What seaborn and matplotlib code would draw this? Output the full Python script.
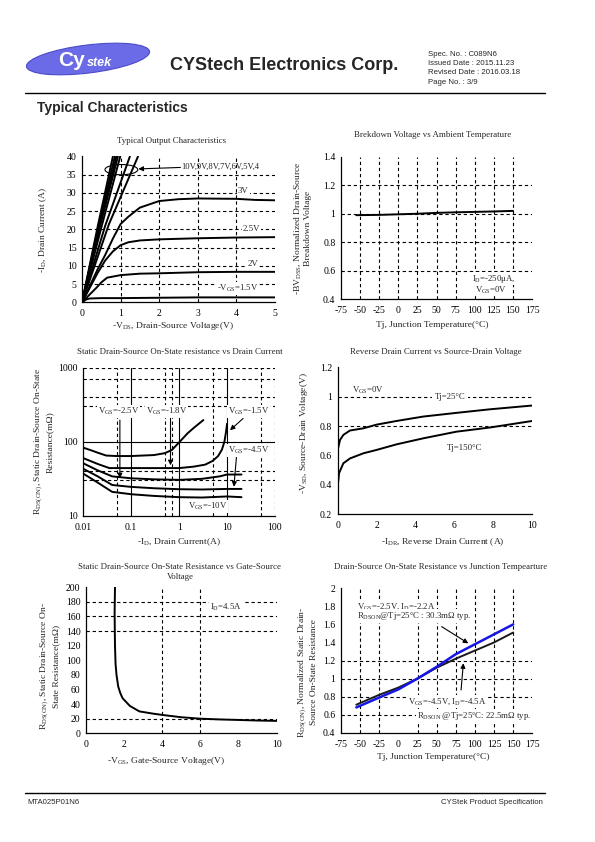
import matplotlib
matplotlib.use("Agg")
import matplotlib.pyplot as plt
from matplotlib.patches import Ellipse
from matplotlib.ticker import NullLocator
import seaborn as sns

# ---------------- data ----------------
# Typical output characteristics (-VDS in V, -ID in A)
vds_10v = [0, 0.4, 0.8]
id_10v = [0, 20.5, 40]
vds_9v = [0, 0.42, 0.85]
id_9v = [0, 20.5, 40]
vds_8v = [0, 0.44, 0.89]
id_8v = [0, 20.5, 40]
vds_7v = [0, 0.46, 0.93]
id_7v = [0, 20.5, 40]
vds_6v = [0, 0.5, 0.99]
id_6v = [0, 20.5, 40]
vds_5v = [0, 0.6, 1.24]
id_5v = [0, 21, 40]
vds_4v = [0, 0.7, 1.45]
id_4v = [0, 21.5, 40]
vds_3v = [0, 0.2, 0.4, 0.6, 0.8, 1.0, 1.2, 1.5, 2.0, 2.5, 3.0, 4.0, 4.5, 5.0]
id_3v = [0, 4.5, 9, 13, 17.5, 21.5, 23.5, 26, 27.8, 28.3, 28.5, 28.4, 28.1, 28.0]
vds_25v = [0, 0.2, 0.4, 0.6, 0.8, 1.0, 1.2, 1.5, 2.0, 3.0, 4.0, 5.0]
id_25v = [0, 4, 8, 11.5, 14, 15.7, 16.5, 17.0, 17.3, 17.6, 17.8, 17.9]
vds_2v = [0, 0.2, 0.37, 0.5, 0.65, 1.0, 1.5, 2.0, 3.0, 4.0, 5.0]
id_2v = [0, 2.2, 4.0, 5.5, 6.8, 7.5, 7.9, 8.0, 8.3, 8.4, 8.4]
vds_15v = [0, 0.1, 0.2, 0.5, 1.0, 2.0, 3.0, 4.0, 5.0]
id_15v = [0, 0.8, 1.1, 1.2, 1.2, 1.3, 1.4, 1.4, 1.4]

# Breakdown voltage vs temperature
bv_tj = [-55, -25, 0, 25, 50, 75, 100, 125, 150]
bv_norm = [0.99, 0.992, 0.996, 1.0, 1.006, 1.01, 1.013, 1.016, 1.02]

# RDS(on) vs drain current (log-log)
rid_a = [0.01, 0.015, 0.02, 0.03, 0.05, 0.1, 0.3, 0.5, 0.7, 1.0, 1.5, 2.0, 3.2]
rds_a = [83, 76, 71, 65, 64, 64, 66, 70, 77, 98, 130, 153, 196]
rid_b = [0.01, 0.02, 0.035, 0.1, 0.3, 1.0, 2.0, 3.5, 5.0, 6.5, 7.8, 8.8, 9.5, 10]
rds_b = [60, 50, 44, 44, 44, 44, 46, 49, 55, 64, 78, 100, 135, 175]
rid_c = [0.01, 0.02, 0.04, 0.1, 0.3, 1.0, 3.0, 7.0, 10, 20]
rds_c = [51, 41, 34, 32, 31, 30.5, 31.5, 34, 36, 36]
rid_d = [0.01, 0.02, 0.04, 0.1, 0.3, 1.0, 3.0, 10, 20]
rds_d = [43, 34, 26, 24.5, 23.5, 22.8, 22.6, 23, 23]
rid_e = [0.01, 0.02, 0.04, 0.1, 0.3, 1.0, 3.0, 10, 20]
rds_e = [37, 28, 21, 19.5, 18.5, 17.8, 17.6, 18.2, 17.8]

# Reverse drain current vs source-drain voltage
idr_25 = [0, 0.12, 0.29, 0.63, 1.32, 2.0, 3.03, 4.4, 6.1, 7.8, 10]
vsd_25 = [0.638, 0.706, 0.74, 0.77, 0.785, 0.81, 0.835, 0.865, 0.89, 0.914, 0.94]
idr_150 = [0, 0.07, 0.29, 0.63, 1.32, 2.0, 3.03, 4.4, 6.1, 7.8, 10]
vsd_150 = [0.39, 0.48, 0.547, 0.58, 0.615, 0.638, 0.676, 0.717, 0.762, 0.79, 0.835]

# RDS(on) vs gate-source voltage
vgs_pts = [1.52, 1.50, 1.52, 1.55, 1.6, 1.69, 1.8, 1.92, 2.3, 2.8, 3.5, 4.05, 5.0, 6.0, 7.0, 8.1, 9.0, 10.0]
rds_vgs = [200, 165, 120, 95, 80, 64, 55, 48, 37.5, 30, 27, 25, 22, 20, 19, 18.2, 17.5, 17]

# Normalized RDS(on) vs junction temperature
rt_tj = [-55, -25, 0, 25, 50, 75, 100, 125, 150]
rt_45v = [0.71, 0.82, 0.9, 1.0, 1.12, 1.22, 1.31, 1.4, 1.51]
rt_25v = [0.68, 0.79, 0.88, 1.0, 1.13, 1.27, 1.38, 1.49, 1.6]

# ---------------- style ----------------
sns.set_style("white")
plt.rcParams['font.family'] = ['Liberation Serif', 'DejaVu Sans']
plt.rcParams['mathtext.fontset'] = 'custom'
plt.rcParams['mathtext.rm'] = 'Liberation Serif'
plt.rcParams['mathtext.default'] = 'regular'
plt.rcParams['axes.unicode_minus'] = False

W, H = 595, 842
fig = plt.figure(figsize=(5.95, 8.42), dpi=100)
page = fig.add_axes([0, 0, 1, 1])
page.set_xlim(0, W)
page.set_ylim(H, 0)
page.axis('off')

SANS = ['Liberation Sans', 'DejaVu Sans']
NARROW = ['Liberation Sans Narrow', 'Liberation Sans', 'DejaVu Sans']

# header
logo = Ellipse((88, 59), 124, 28, angle=-7, facecolor='#6b6be8', edgecolor='#4b4bc8', lw=0.8)
page.add_patch(logo)
page.text(58, 61, 'Cy', color='white', fontsize=15, fontweight='bold', family=SANS, va='center')
page.text(87, 63, 'stek', color='white', fontsize=9, fontweight='bold', style='italic', family=SANS, va='center')
page.text(170, 66, 'CYStech Electronics Corp.', fontsize=13, fontweight='bold', family=SANS, va='center')
for i, s in enumerate(['Spec. No. : C089N6', 'Issued Date : 2015.11.23',
                       'Revised Date : 2016.03.18', 'Page No. : 3/9']):
    page.text(428, 54 + i * 9.4, s, fontsize=5.6, family=NARROW, va='center')
page.plot([25, 545], [93, 93], color='k', lw=1)
page.text(37, 108, 'Typical Characteristics', fontsize=10, fontweight='bold', family=SANS, va='center')

# footer
page.plot([25, 545], [793, 793], color='k', lw=1)
page.text(27, 803, 'MTA025P01N6', fontsize=5.6, family=NARROW, va='center')
page.text(543, 803, 'CYStek Product Specification', fontsize=5.6, family=NARROW, va='center', ha='right')

# chart titles
TITLE = 6.4
page.text(172, 141, 'Typical Output Characteristics', fontsize=TITLE, ha='center', va='center')
page.text(433, 135, 'Brekdown Voltage vs Ambient Temperature', fontsize=TITLE, ha='center', va='center')
page.text(180, 352, 'Static Drain-Source On-State resistance vs Drain Current', fontsize=TITLE, ha='center', va='center')
page.text(436, 352, 'Reverse Drain Current vs Source-Drain Voltage', fontsize=TITLE, ha='center', va='center')
page.text(180, 572, 'Static Drain-Source On-State Resistance vs Gate-Source\nVoltage', fontsize=TITLE,
          ha='center', va='center', linespacing=1.3)
page.text(441, 567, 'Drain-Source On-State Resistance vs Junction Tempearture', fontsize=TITLE, ha='center', va='center')


def panel(x0, y0, x1, y1):
    ax = fig.add_axes([x0 / W, 1 - y1 / H, (x1 - x0) / W, (y1 - y0) / H])
    for side in ['top', 'right']:
        ax.spines[side].set_visible(False)
    for side in ['left', 'bottom']:
        ax.spines[side].set_color('k')
        ax.spines[side].set_linewidth(0.9)
    ax.tick_params(direction='in', length=3, width=0.7, labelsize=7, colors='k')
    ax.tick_params(axis='x', pad=5)
    ax.tick_params(axis='y', pad=4)
    return ax


def dashed(ax, xs=(), ys=(), solid=False):
    ls = '-' if solid else (0, (3, 2.5))
    for v in xs:
        ax.axvline(v, color='k', lw=0.8, ls=ls, zorder=0.5)
    for v in ys:
        ax.axhline(v, color='k', lw=0.8, ls=ls, zorder=0.5)


def curve(ax, x, y, color='k', lw=1.4):
    sns.lineplot(x=x, y=y, ax=ax, color=color, lw=lw, sort=False, estimator=None, zorder=3)


def labels(ax, xl, yl, xpos, ypos):
    ax.set_xlabel(xl, fontsize=6.8)
    ax.set_ylabel(yl, fontsize=6.8, linespacing=1.15)
    ax.xaxis.set_label_coords(*xpos)
    ax.yaxis.set_label_coords(*ypos)


white = dict(facecolor='white', edgecolor='none', pad=0.6)
arrow = dict(arrowstyle='-|>', color='k', lw=0.8, mutation_scale=7, shrinkA=0, shrinkB=0)
ANN = 6.3

# ---- 1. Typical output characteristics ----
ax1 = panel(82, 156.5, 275, 302.5)
dashed(ax1, xs=[1, 2, 3, 4], ys=[5, 10, 15, 20, 25, 30, 35])
for x, y in [(vds_10v, id_10v), (vds_9v, id_9v), (vds_8v, id_8v), (vds_7v, id_7v),
             (vds_6v, id_6v), (vds_5v, id_5v), (vds_4v, id_4v), (vds_3v, id_3v),
             (vds_25v, id_25v), (vds_2v, id_2v), (vds_15v, id_15v)]:
    curve(ax1, x, y)
ax1.set_xlim(0, 5)
ax1.set_ylim(0, 40)
ax1.set_xticks(range(6))
ax1.set_yticks(range(0, 41, 5))
ax1.add_patch(Ellipse((1.02, 36.4), 0.85, 2.8, fill=False, color='k', lw=0.8, zorder=4))
ax1.annotate('', xy=(1.46, 36.6), xytext=(2.55, 37.0), arrowprops=arrow)
ax1.text(2.58, 37.2, '10V,9V,8V,7V,6V,5V,4', fontsize=6.2, va='center')
ax1.text(4.18, 30.5, '3V', fontsize=ANN, ha='center', va='center', bbox=white)
ax1.text(4.39, 20.0, '2.5V', fontsize=ANN, ha='center', va='center', bbox=white)
ax1.text(4.42, 10.6, '2V', fontsize=ANN, ha='center', va='center', bbox=white)
ax1.text(4.03, 3.9, '-V$_{GS}$=1.5V', fontsize=ANN, ha='center', va='center', bbox=white)
labels(ax1, '-V$_{DS}$, Drain-Source Voltage(V)', '-I$_D$, Drain Current (A)',
       (0.47, -0.12), (-0.17, 0.5))

# ---- 2. Breakdown voltage vs temperature ----
ax2 = panel(341, 156.7, 532, 299.3)
dashed(ax2, xs=[-50, -25, 0, 25, 50, 75, 100, 125, 150], ys=[0.6, 0.8, 1.0, 1.2])
curve(ax2, bv_tj, bv_norm)
ax2.set_xlim(-75, 175)
ax2.set_ylim(0.4, 1.4)
ax2.set_xticks(range(-75, 176, 25))
ax2.set_yticks([0.4, 0.6, 0.8, 1.0, 1.2, 1.4], labels=['0.4', '0.6', '0.8', '1', '1.2', '1.4'])
ax2.text(96, 0.545, 'I$_D$=-250μA,', fontsize=ANN, va='center', bbox=dict(facecolor='white', edgecolor='none', pad=0.2))
ax2.text(100, 0.465, 'V$_{GS}$=0V', fontsize=ANN, va='center', bbox=dict(facecolor='white', edgecolor='none', pad=0.2))
labels(ax2, 'Tj, Junction Temperature(°C)', '-BV$_{DSS}$, Normalized Drain-Source\nBreakdown Voltage',
       (0.48, -0.155), (-0.152, 0.5))

# ---- 3. RDS(on) vs drain current ----
ax3 = panel(83.3, 367.7, 275, 515.7)
ax3.set_xscale('log')
ax3.set_yscale('log')
dashed(ax3, xs=[0.05, 0.5, 0.7, 5, 50, 100], ys=[30, 40, 300, 400, 700, 1000])
dashed(ax3, xs=[0.1, 1, 10], ys=[100], solid=True)
for x, y in [(rid_a, rds_a), (rid_b, rds_b), (rid_c, rds_c), (rid_d, rds_d), (rid_e, rds_e)]:
    curve(ax3, x, y)
ax3.set_xlim(0.01, 100)
ax3.set_ylim(10, 1000)
ax3.set_xticks([0.01, 0.1, 1, 10, 100], labels=['0.01', '0.1', '1', '10', '100'])
ax3.set_yticks([10, 100, 1000], labels=['10', '100', '1000'])
ax3.xaxis.set_minor_locator(NullLocator())
ax3.yaxis.set_minor_locator(NullLocator())
ax3.text(0.054, 254, 'V$_{GS}$=-2.5V', fontsize=ANN, ha='center', va='center', bbox=white, zorder=5)
ax3.text(0.55, 254, 'V$_{GS}$=-1.8V', fontsize=ANN, ha='center', va='center', bbox=white, zorder=5)
ax3.text(27.9, 254, 'V$_{GS}$=-1.5V', fontsize=ANN, ha='center', va='center', bbox=white, zorder=5)
ax3.text(27.9, 77, 'V$_{GS}$=-4.5V', fontsize=ANN, ha='center', va='center', bbox=white, zorder=5)
ax3.text(4.0, 13.5, 'V$_{GS}$=-10V', fontsize=ANN, ha='center', va='center', bbox=white, zorder=5)
ax3.annotate('', xy=(0.058, 32), xytext=(0.058, 196), arrowprops=arrow)
ax3.annotate('', xy=(0.66, 48), xytext=(0.66, 218), arrowprops=arrow)
ax3.annotate('', xy=(11.5, 143), xytext=(21.6, 206), arrowprops=arrow)
ax3.annotate('', xy=(13.9, 24.6), xytext=(15.9, 69), arrowprops=arrow)
labels(ax3, '-I$_D$, Drain Current(A)', 'R$_{DS(ON)}$, Static Drain-Source On-State\nResistance(mΩ)',
       (0.5, -0.137), (-0.153, 0.5))

# ---- 4. Reverse drain current ----
ax4 = panel(337.7, 367.3, 532.3, 514.3)
dashed(ax4, ys=[0.8, 1.0])
curve(ax4, idr_25, vsd_25)
curve(ax4, idr_150, vsd_150)
ax4.set_xlim(0, 10)
ax4.set_ylim(0.2, 1.2)
ax4.set_xticks(range(0, 11, 2))
ax4.set_yticks([0.2, 0.4, 0.6, 0.8, 1.0, 1.2], labels=['0.2', '0.4', '0.6', '0.8', '1', '1.2'])
ax4.text(0.72, 1.046, 'V$_{GS}$=0V', fontsize=ANN, va='center')
ax4.text(5.77, 1.0, 'Tj=25°C', fontsize=ANN, ha='center', va='center', bbox=dict(facecolor='white', edgecolor='none', pad=2))
ax4.text(5.6, 0.65, 'Tj=150°C', fontsize=ANN, va='center')
labels(ax4, '-I$_{DR}$, Reverse Drain Current (A)', '-V$_{SD}$, Source-Drain Voltage(V)',
       (0.54, -0.148), (-0.14, 0.55))

# ---- 5. RDS(on) vs gate-source voltage ----
ax5 = panel(86, 587.3, 276.7, 733.3)
dashed(ax5, xs=[4, 6], ys=[20, 140, 160, 180])
curve(ax5, vgs_pts, rds_vgs)
ax5.set_xlim(0, 10)
ax5.set_ylim(0, 200)
ax5.set_xticks(range(0, 11, 2))
ax5.set_yticks(range(0, 201, 20))
ax5.text(6.5, 173, 'I$_D$=4.5A', fontsize=ANN, va='center', bbox=white)
labels(ax5, '-V$_{GS}$, Gate-Source Voltage(V)', 'R$_{DS(ON)}$, Static Drain-Source On-\nState Resistance(mΩ)',
       (0.42, -0.149), (-0.136, 0.46))

# ---- 6. Normalized RDS(on) vs temperature ----
ax6 = panel(341, 588.3, 532.3, 732.7)
dashed(ax6, xs=[-50, -25, 25, 50, 75, 100, 125, 150], ys=[0.6, 0.8, 1.0, 1.2])
curve(ax6, rt_tj, rt_45v, color='#1a1a1a', lw=1.4)
curve(ax6, rt_tj, rt_25v, color='#1515e6', lw=1.8)
ax6.set_xlim(-75, 175)
ax6.set_ylim(0.4, 2.0)
ax6.set_xticks(range(-75, 176, 25))
ax6.set_yticks([0.4, 0.6, 0.8, 1.0, 1.2, 1.4, 1.6, 1.8, 2.0],
               labels=['0.4', '0.6', '0.8', '1', '1.2', '1.4', '1.6', '1.8', '2'])
ax6.text(-54.5, 1.80, 'V$_{GS}$=-2.5V, I$_D$=-2.2A', fontsize=ANN, va='center', bbox=white)
ax6.text(-54.5, 1.69, 'R$_{DSON}$@Tj=25°C : 30.3mΩ typ.', fontsize=ANN, va='center', bbox=white)
ax6.text(13, 0.745, 'V$_{GS}$=-4.5V, I$_D$=-4.5A', fontsize=ANN, va='center', bbox=white)
ax6.text(23.9, 0.59, 'R$_{DSON}$ @Tj=25°C: 22.5mΩ typ.', fontsize=ANN, va='center', bbox=white)
ax6.annotate('', xy=(91.4, 1.39), xytext=(56.6, 1.575), arrowprops=arrow)
ax6.annotate('', xy=(84.9, 1.17), xytext=(81.9, 0.873), arrowprops=arrow)
labels(ax6, 'Tj, Junction Temperature(°C)', 'R$_{DS(ON)}$, Normalized Static Drain-\nSource On-State Resistance',
       (0.48, -0.14), (-0.12, 0.42))

fig.savefig('out.png', dpi=100)
